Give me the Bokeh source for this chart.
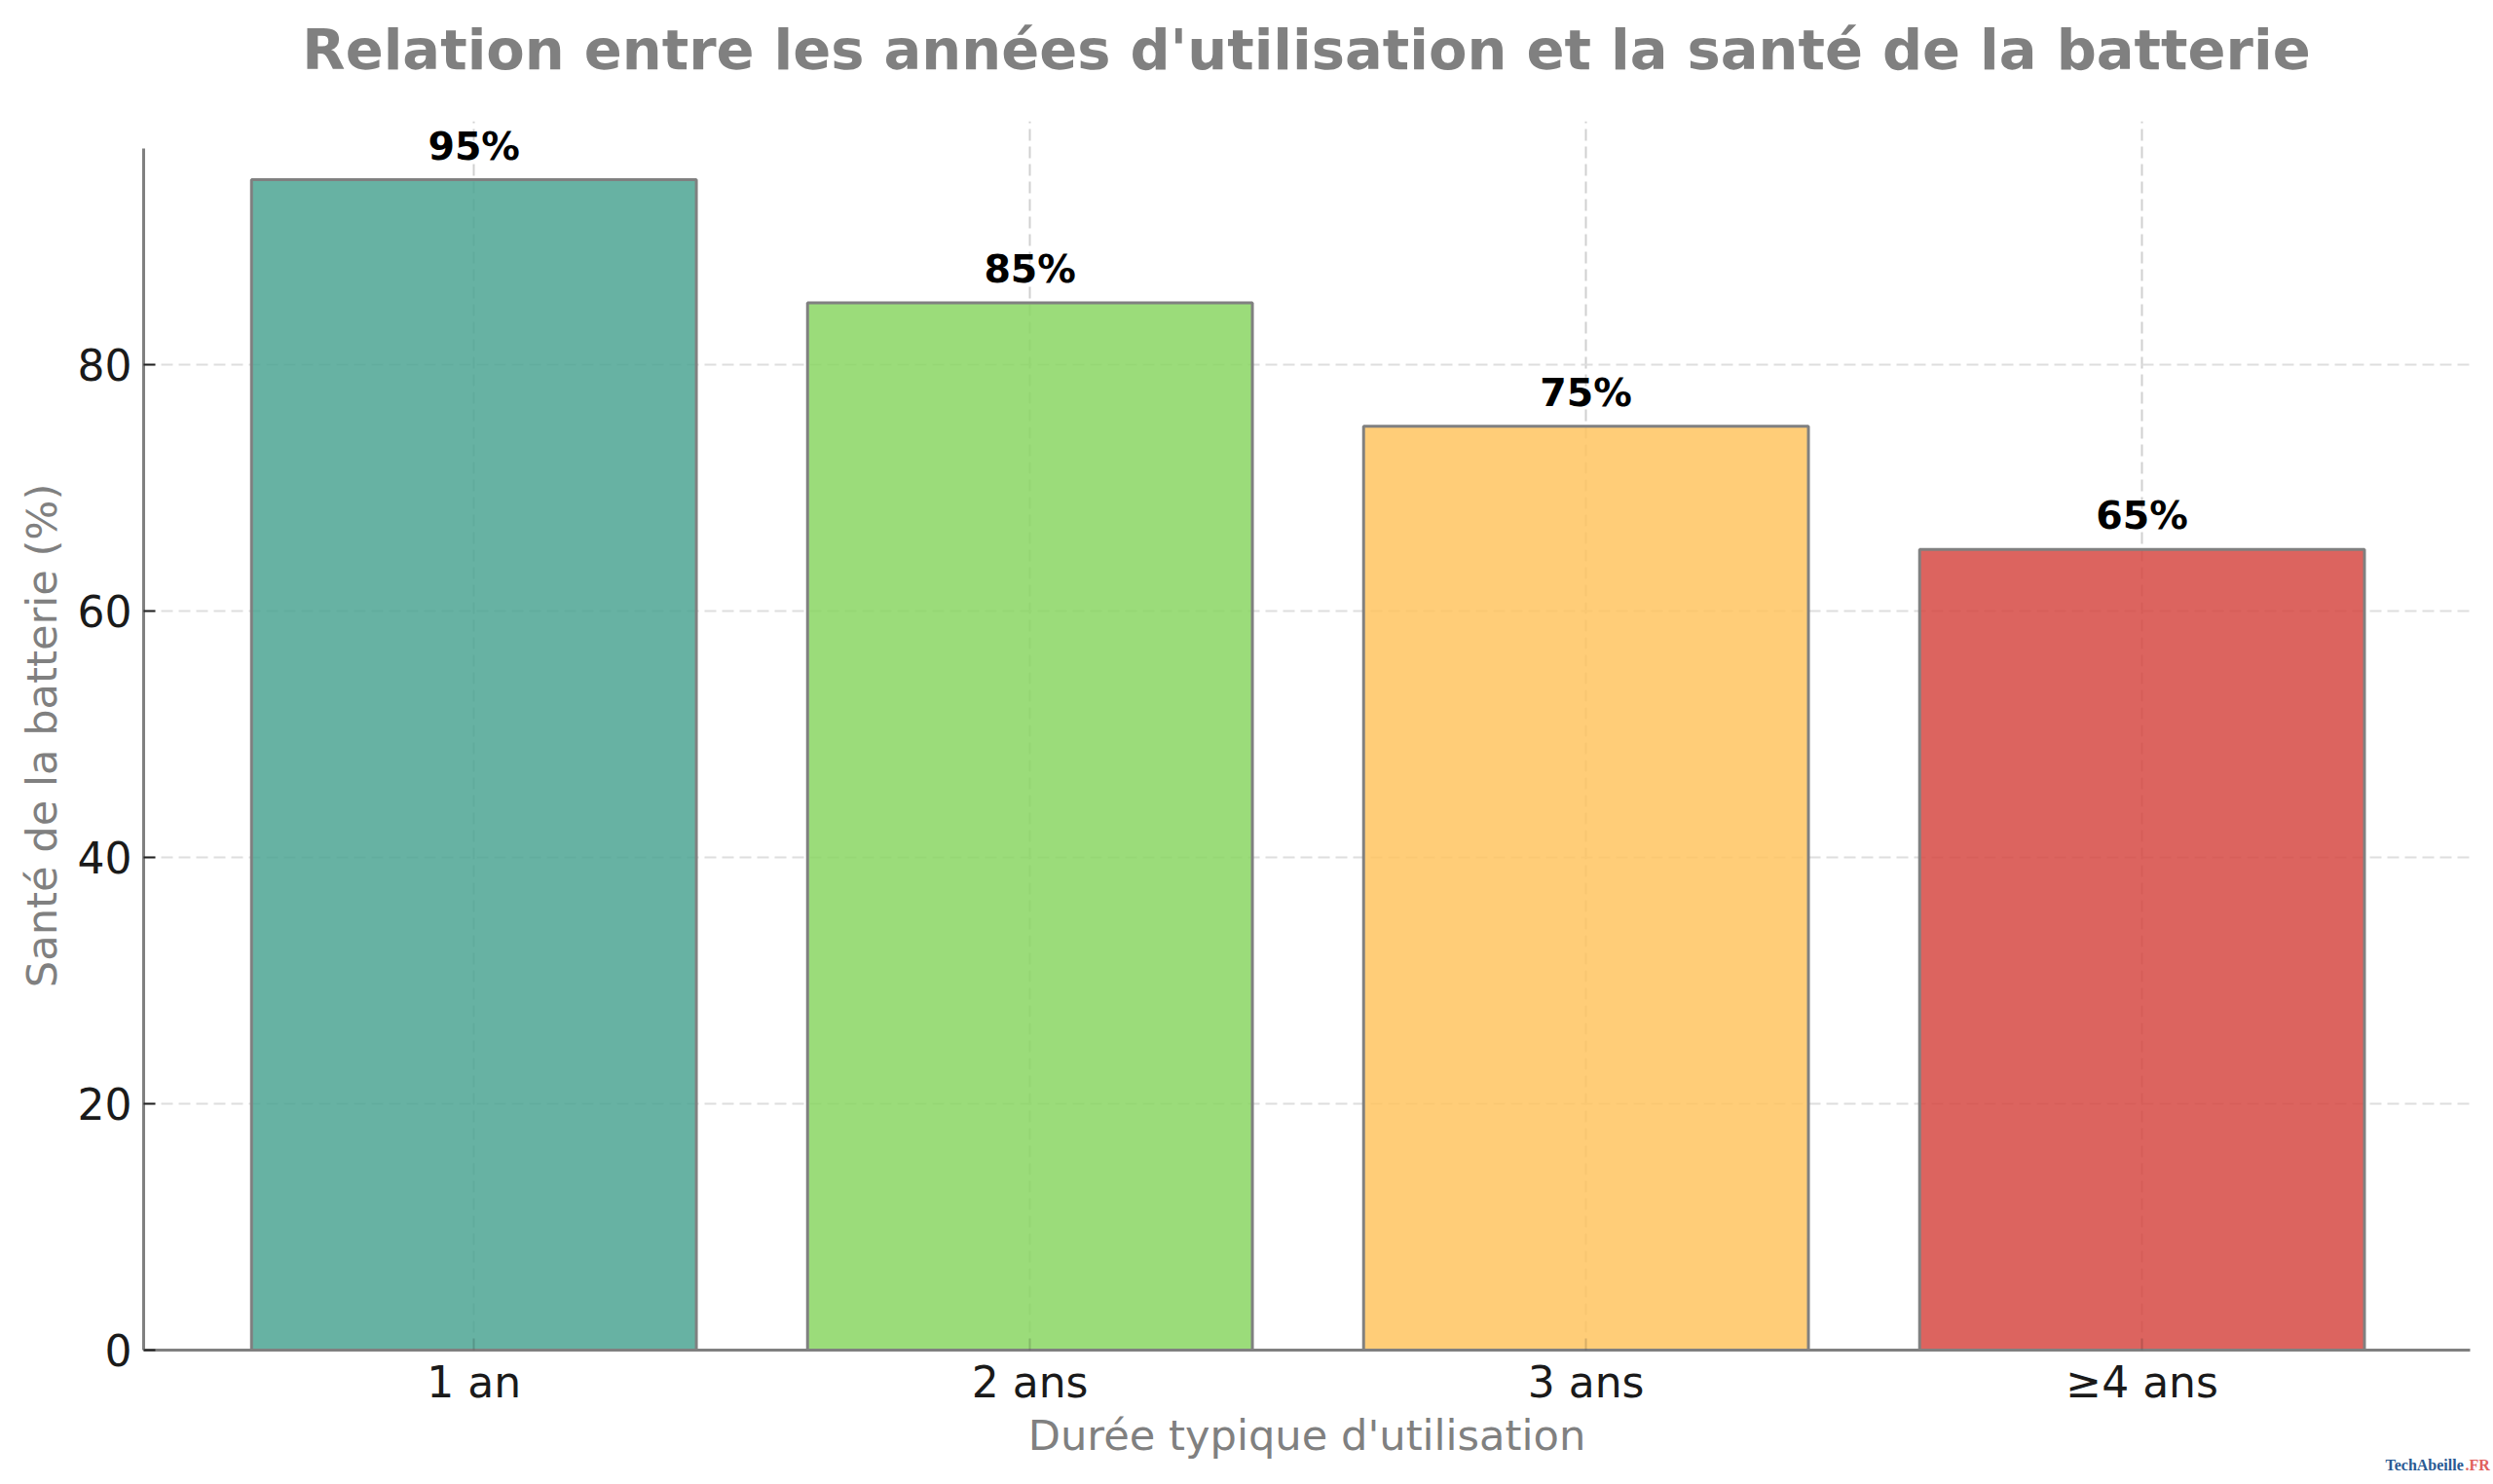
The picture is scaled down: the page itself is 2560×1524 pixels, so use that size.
from bokeh.core.properties import value
from bokeh.embed import file_html
from bokeh.resources import INLINE
from bokeh.plotting import figure
from bokeh.models import (ColumnDataSource, Range1d, FixedTicker, Label, PolyAnnotation)

categories = ["1 an", "2 ans", "3 ans", "≥4 ans"]
values = [95, 85, 75, 65]
value_labels = ["95%", "85%", "75%", "65%"]
bar_colors = ["#4CA493", "#89D663", "#FFC460", "#D64943"]
y_ticks = [0, 20, 40, 60, 80]
title_text = "Relation entre les années d'utilisation et la santé de la batterie"
x_label = "Durée typique d'utilisation"
y_label = "Santé de la batterie (%)"

positions = list(range(len(categories)))
src = ColumnDataSource(dict(x=positions, top=values, color=bar_colors, label=value_labels))

FONT = "DejaVu Sans"
GREY = "#808080"
XMIN, XMAX, YMIN, YMAX = -0.594, 3.59, 0, 99.75
FW, FH = 2389, 1262

p = figure(width=2560, height=1524, output_backend="svg", toolbar_location=None,
           x_range=Range1d(XMIN, XMAX), y_range=Range1d(YMIN, YMAX),
           frame_width=FW, frame_height=FH,
           min_border_left=147, min_border_right=24, min_border_top=124, min_border_bottom=138)
p.outline_line_color = None
p.background_fill_color = "white"
p.border_fill_color = "white"

def dx(px):
    return XMIN + (px - 147) / FW * (XMAX - XMIN)
def dy(py):
    return YMIN + (1386 - py) / FH * (YMAX - YMIN)

p.add_layout(Label(x=dx(1341), y=dy(51), text=title_text, text_align="center", text_baseline="middle",
                   text_font=FONT, text_font_style="bold", text_font_size="57.5px", text_color=GREY), "above")

p.vbar(x="x", top="top", width=0.8, bottom=0, source=src, fill_color="color", fill_alpha=0.85,
       line_color=GREY, line_width=3)
p.text(x="x", y="top", text="label", source=src, text_align="center", text_baseline="bottom",
       y_offset=-12, text_font=value(FONT), text_font_style="bold", text_font_size="39.5px", text_color="black")

xa = p.xaxis[0]
xa.ticker = FixedTicker(ticks=positions)
xa.major_label_overrides = {i: c for i, c in enumerate(categories)}
xa.axis_label = x_label
ya = p.yaxis[0]
ya.ticker = FixedTicker(ticks=y_ticks)
ya.axis_label = y_label
ya.bounds = (0, 97.5)
for a in (xa, ya):
    a.axis_line_color = GREY
    a.axis_line_width = 3
    a.major_tick_in = 12
    a.major_tick_out = 0
    a.major_tick_line_color = "#222222"
    a.major_tick_line_width = 2
    a.minor_tick_line_color = None
    a.major_label_text_font = FONT
    a.major_label_text_font_size = "44px"
    a.major_label_text_color = "#1a1a1a"
    a.axis_label_text_font = FONT
    a.axis_label_text_font_size = "43.2px"
    a.axis_label_text_font_style = "normal"
    a.axis_label_text_color = GREY
xa.major_tick_line_alpha = 0.15
xa.major_label_standoff = 7
xa.axis_label_standoff = 1
ya.major_label_standoff = 12
ya.axis_label_standoff = 9

for g, col in ((p.xgrid[0], "#d0d0d0"), (p.ygrid[0], "#dedede")):
    g.grid_line_color = col
    g.grid_line_width = 2
    g.grid_line_dash = [12, 6]
p.xgrid[0].ticker = xa.ticker
p.ygrid[0].ticker = ya.ticker

# watermark
p.add_layout(Label(x=dx(2449), y=dy(1512), text="TechAbeille",
                   text_font="Liberation Serif", text_font_style="bold", text_font_size="16px",
                   text_color="#2a5a93"), "below")
p.add_layout(Label(x=dx(2531), y=dy(1512), text=".FR",
                   text_font="Liberation Serif", text_font_style="bold", text_font_size="16px",
                   text_color="#e0605c"), "below")

def poly(points, color):
    p.add_layout(PolyAnnotation(xs=[a for a, _ in points], ys=[b for _, b in points],
                                xs_units="screen", ys_units="screen",
                                fill_color=color, fill_alpha=1, line_color=None), "below")

poly([(2400, 1494), (2410, 1495), (2419, 1500), (2418, 1505), (2411, 1506), (2404, 1501)], "#2f73c4")
poly([(2447, 1494), (2437, 1495), (2428, 1500), (2429, 1505), (2436, 1506), (2443, 1501)], "#ee6a6a")
poly([(2419, 1492), (2427, 1492), (2429, 1499), (2429, 1515), (2425, 1521), (2421, 1521), (2417, 1515), (2417, 1499)], "#e6a81e")
poly([(2419, 1492), (2427, 1492), (2428, 1496), (2418, 1496)], "#222222")
poly([(2417, 1502), (2429, 1502), (2429, 1507), (2417, 1507)], "#222222")
poly([(2418, 1512), (2428, 1512), (2427, 1515), (2419, 1515)], "#222222")

open("out.html", "w").write(file_html(p, INLINE))
